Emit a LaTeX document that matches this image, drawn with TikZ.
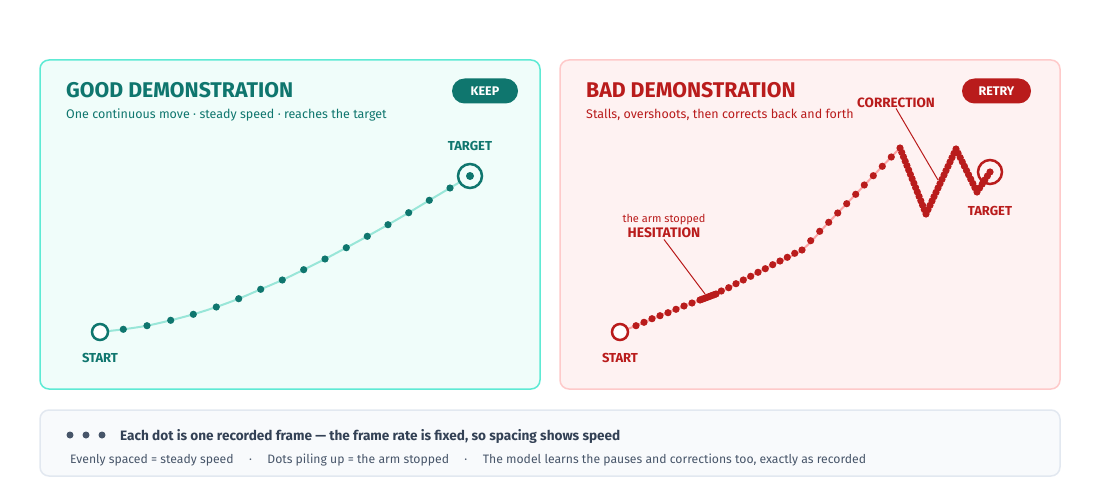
\documentclass[tikz,border=0pt]{standalone}
\usepackage{fontspec}
\setmainfont{Fira Sans}
\usetikzlibrary{calc}
\definecolor{tealdark}{HTML}{0F766E}
\definecolor{teallight}{HTML}{99E6D8}
\definecolor{tealfill}{HTML}{F0FDFA}
\definecolor{tealedge}{HTML}{5EEAD4}
\definecolor{reddark}{HTML}{B91C1C}
\definecolor{redlight}{HTML}{FCA5A5}
\definecolor{redfill}{HTML}{FEF2F2}
\definecolor{rededge}{HTML}{FECACA}
\definecolor{slatefill}{HTML}{F8FAFC}
\definecolor{slateedge}{HTML}{E2E8F0}
\definecolor{slatedark}{HTML}{334155}
\definecolor{slatemid}{HTML}{475569}

\begin{document}
\begin{tikzpicture}[x=1pt,y=-1pt,
    panel/.style={rounded corners=9pt, line width=1.5pt},
    pill/.style={rounded corners=12.5pt, minimum width=66pt, minimum height=25pt, inner sep=0pt, text=white, font=\bfseries\fontsize{12.5}{14}\selectfont},
    title/.style={anchor=base west, inner sep=0pt, font=\bfseries\fontsize{21.3}{24}\selectfont},
    sub/.style={anchor=base west, inner sep=0pt, font=\fontsize{12.5}{14}\selectfont},
    tag/.style={anchor=base, inner sep=0pt, font=\bfseries\fontsize{13}{15}\selectfont},
    endpt/.style={circle, draw, line width=2.5pt, fill=white, minimum size=16pt, inner sep=0pt},
    leader/.style={reddark, line width=1pt}]
\useasboundingbox (0,0) rectangle (1100,500);

% panels
\draw[panel, fill=tealfill, draw=tealedge] (40,60) rectangle (540,389);
\draw[panel, fill=redfill, draw=rededge] (560,60) rectangle (1060,389);
\draw[panel, fill=slatefill, draw=slateedge] (40,410) rectangle (1060,476);

% good demonstration
\node[title, text=tealdark] (gtitle) at (66,98) {GOOD DEMONSTRATION};
\node[sub, text=tealdark] (gsub) at (66,119) {One continuous move · steady speed · reaches the target};
\node[pill, fill=tealdark] (keep) at (485,91) {KEEP};

\coordinate (gs) at (100,332);
\coordinate (gt) at (470,176);
\draw[teallight, line width=2pt] plot[smooth] coordinates {(gs) (123.3,329.3) (147,325.7) (170.7,320.3) (193.3,314.3) (216.3,307) (238.7,298.7) (260.7,289.3) (282.3,280) (303.7,269.7) (325,259) (346.3,247.7) (367.3,236.3) (388,224.7) (408.7,212.7) (429.3,200.3) (450,188) (gt)};
\foreach \p in {(123.3,329.3),(147,325.7),(170.7,320.3),(193.3,314.3),(216.3,307),(238.7,298.7),(260.7,289.3),(282.3,280),(303.7,269.7),(325,259),(346.3,247.7),(367.3,236.3),(388,224.7),(408.7,212.7),(429.3,200.3),(450,188)}
    \fill[tealdark] \p circle (3.6);
\node[endpt, draw=tealdark] (gstart) at (gs) {};
\node[circle, draw=tealdark, line width=2.5pt, fill=tealfill, minimum size=24pt, inner sep=0pt] (gtarget) at (gt) {};
\fill[tealdark] (gtarget.center) circle (4);
\node[tag, text=tealdark] (gstartlbl) at (100,362) {START};
\node[tag, text=tealdark] (gtargetlbl) at (470,150) {TARGET};

% bad demonstration
\node[title, text=reddark] (btitle) at (586,98) {BAD DEMONSTRATION};
\node[sub, text=reddark] (bsub) at (586,119) {Stalls, overshoots, then corrects back and forth};
\node[pill, fill=reddark, minimum width=69pt] (retry) at (996.5,91) {RETRY};

\coordinate (bs) at (620,332);
\coordinate (h0) at (700,300);
\coordinate (h1) at (716,294);
\coordinate (z0) at (900,148);
\coordinate (z1) at (926,214);
\coordinate (z2) at (956,149);
\coordinate (z3) at (977,192);
\coordinate (z4) at (990,172);
\draw[redlight, line width=2pt] plot[smooth] coordinates {(bs) (636,325.7) (660,315.7) (684,306) (h0) (h1) (743.3,280) (772.7,264.7) (802,250) (828.7,222.3) (855.7,194.3) (882.3,166.3) (z0)} -- (z1) -- (z2) -- (z3) -- (z4);
\node[circle, draw=reddark, line width=2.5pt, minimum size=24pt, inner sep=0pt] (btarget) at (z4) {};
\foreach \p in {(636,325.7),(644,322.3),(652,318.7),(660,315.7),(668,312.7),(676,309.3),(684,306),(692,303),(721.3,291),(728.7,287.7),(736,283.7),(743.3,280),(750.7,276.3),(758,272.3),(765.3,268.7),(772.7,264.7),(780,261),(787.3,257.3),(794.7,253.3),(802,250),(810.7,240.7),(819.7,231.3),(828.7,222.3),(837.7,213),(846.7,203.7),(855.7,194.3),(864.3,185),(873.3,175.7),(882.3,166.3),(891.3,157)}
    \fill[reddark] \p circle (3.6);
% piled-up frames
\foreach \i in {0,...,9}
    \fill[reddark] ($(h0)!{\i/9}!(h1)$) circle (3.6);
% back and forth
\fill[reddark] (z0) circle (3.6);
\foreach \s/\e/\n in {z0/z1/15, z1/z2/15, z2/z3/10, z3/z4/5}
    \foreach \i in {1,...,\n}
        \fill[reddark] ($(\s)!{\i/\n}!(\e)$) circle (3.6);
\node[endpt, draw=reddark] (bstart) at (bs) {};
\node[tag, text=reddark] (bstartlbl) at (620,362) {START};
\node[tag, text=reddark] (btargetlbl) at (990,215) {TARGET};

\node[tag, text=reddark, font=\bfseries\fontsize{13.5}{15}\selectfont] (corr) at (896,108) {CORRECTION};
\coordinate (corrat) at (938,180);
\draw[leader] (corr.south) -- (corrat);
\node[anchor=base, inner sep=0pt, text=reddark, font=\fontsize{11}{13}\selectfont] (hesnote) at (664,222) {the arm stopped};
\node[tag, text=reddark, inner sep=2pt, font=\bfseries\fontsize{13.8}{15}\selectfont] (hes) at (664,237) {HESITATION};
\coordinate (hesat) at (705,294);
\draw[leader] (hes.south) -- (hesat);

% legend
\foreach \x in {70,86,102}
    \fill[slatemid] (\x,435) circle (3.5);
\node[anchor=base west, inner sep=0pt, text=slatedark, font=\bfseries\fontsize{13.6}{15}\selectfont] (legend1) at (120,440) {Each dot is one recorded frame — the frame rate is fixed, so spacing shows speed};
\node[anchor=base west, inner sep=0pt, text=slatemid, font=\fontsize{12.2}{14}\selectfont] (legend2) at (70,463) {Evenly spaced = steady speed \quad · \quad Dots piling up = the arm stopped \quad · \quad The model learns the pauses and corrections too, exactly as recorded};
\end{tikzpicture}
\end{document}
